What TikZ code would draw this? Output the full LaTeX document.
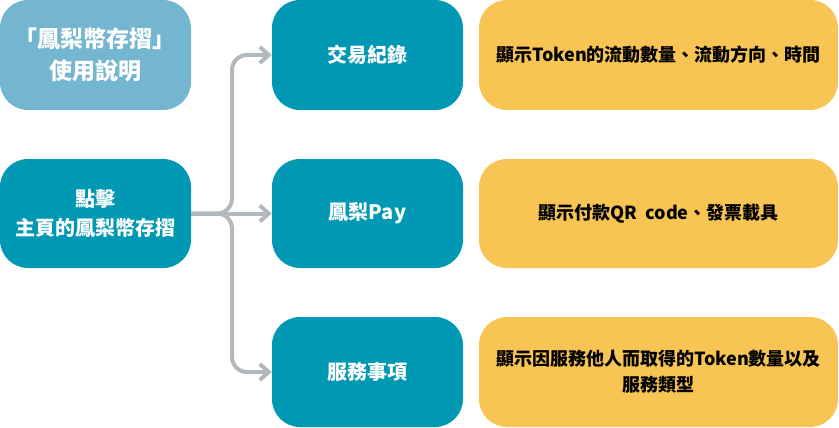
\documentclass[tikz,border=0pt]{standalone}
\usepackage{fontspec}
\setmainfont{Noto Sans CJK TC}
\usetikzlibrary{arrows.meta}
\definecolor{titleblue}{HTML}{74B6CF}
\definecolor{teal}{HTML}{0098B3}
\definecolor{gold}{HTML}{F8C453}
\definecolor{conn}{HTML}{B1B9BE}
\tikzset{
  box/.style={rounded corners=28pt, inner sep=0pt, align=center, font=\bfseries},
  titlebox/.style={box, fill=titleblue, text=white, minimum width=191pt, minimum height=110pt, font=\bfseries\fontsize{23}{32}\selectfont},
  tealbox/.style={box, fill=teal, text=white, minimum width=191pt, minimum height=110pt, font=\bfseries\fontsize{20}{29}\selectfont},
  goldbox/.style={box, fill=gold, text=black, minimum width=359pt, minimum height=110pt, font=\bfseries\fontsize{18}{26}\selectfont},
  link/.style={draw=conn, line width=4pt, rounded corners=15pt, -{Straight Barb[length=9pt,width=16pt]}}
}
\begin{document}
\begin{tikzpicture}[x=1pt,y=-1pt]
\useasboundingbox (0,0) rectangle (839,428);
\node[titlebox] (title) at (95.5,55) {「鳳梨幣存摺」\\使用說明};
\node[tealbox, minimum height=109pt] (home) at (95.5,213.5) {點擊\\主頁的鳳梨幣存摺};
\node[tealbox] (rec) at (367.5,55) {交易紀錄};
\node[tealbox, minimum height=109pt] (pay) at (367.5,213.5) {鳳梨Pay};
\node[tealbox] (srv) at (367.5,372) {服務事項};
\node[goldbox] (d1) at (658.5,55) {顯示Token的流動數量、流動方向、時間};
\node[goldbox, minimum height=109pt] (d2) at (658.5,213.5) {顯示付款QR~ code、發票載具};
\node[goldbox] (d3) at (658.5,372) {顯示因服務他人而取得的Token數量以及\\服務類型};
\coordinate (jx) at (232,0);
\draw[link] (home.east) -- (pay.west);
\draw[link] (home.east) -- (home.east -| jx) -- (rec.west -| jx) -- (rec.west);
\draw[link] (home.east) -- (home.east -| jx) -- (srv.west -| jx) -- (srv.west);
\end{tikzpicture}
\end{document}
